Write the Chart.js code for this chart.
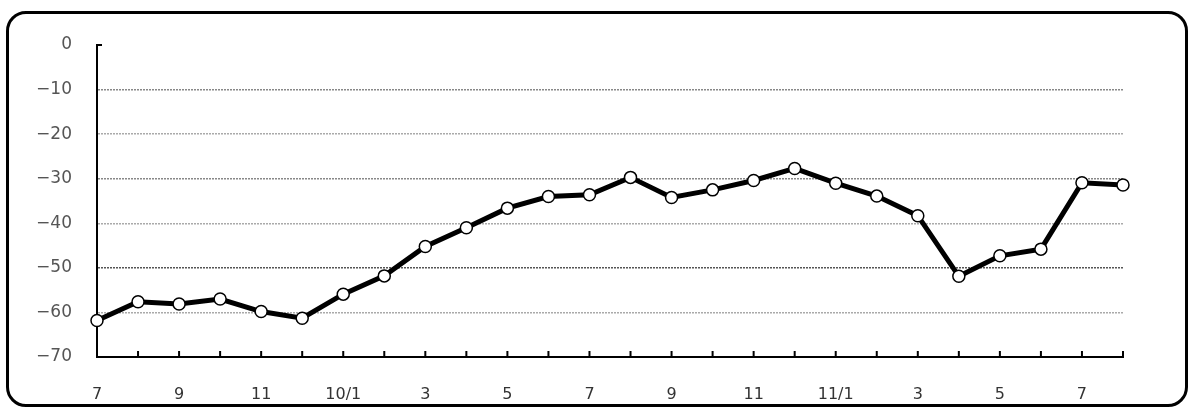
<!DOCTYPE html>
<html>
<head>
<meta charset="utf-8">
<script src="https://cdn.jsdelivr.net/npm/chart.js@4"></script>
<style>
  html, body { margin: 0; padding: 0; background: #fff; }
  #wrap { position: relative; width: 1189px; height: 409px; }
  #frame {
    position: absolute; left: 6px; top: 11px; width: 1182px; height: 396px;
    box-sizing: border-box; border: 3px solid #000; border-radius: 20px;
    pointer-events: none;
  }
  canvas { position: absolute; left: 0; top: 0; }
</style>
</head>
<body>
<div id="wrap">
  <canvas id="c" width="1189" height="409"></canvas>
  <div id="frame"></div>
</div>
<script>
// Monthly readings, 2009/7 through 2011/8
const months = ['7','8','9','10','11','12',
                '10/1','2','3','4','5','6','7','8','9','10','11','12',
                '11/1','2','3','4','5','6','7','8'];
const values = [-61.8, -57.6, -58.1, -57.0, -59.8, -61.3,
                -55.9, -51.8, -45.2, -41.0, -36.6, -34.0, -33.6, -29.7, -34.2, -32.5, -30.4, -27.7,
                -31.0, -33.9, -38.3, -51.9, -47.3, -45.8, -30.9, -31.4];
const yMin = -70, yMax = 0, yStep = 10;

// Short tick marks pointing into the plot area
const innerTicks = {
  id: 'innerTicks',
  afterDraw(chart) {
    const ctx = chart.ctx;
    const xs = chart.scales.x, ys = chart.scales.y;
    ctx.save();
    ctx.strokeStyle = '#000';
    ctx.lineWidth = 2;
    ctx.beginPath();
    const bottom = ys.getPixelForValue(yMin);
    xs.ticks.forEach((t, i) => {
      const px = xs.getPixelForTick(i);
      ctx.moveTo(px, bottom);
      ctx.lineTo(px, bottom - 6);
    });
    const top = ys.getPixelForValue(yMax);
    ctx.moveTo(xs.left - 1, top);
    ctx.lineTo(xs.left + 5, top);
    ctx.stroke();
    ctx.restore();
  }
};

new Chart(document.getElementById('c'), {
  type: 'line',
  data: {
    labels: months,
    datasets: [{
      data: values,
      borderColor: '#000',
      borderWidth: 5,
      tension: 0,
      pointRadius: 6,
      pointBackgroundColor: '#fff',
      pointBorderColor: '#000',
      pointBorderWidth: 1.5,
      clip: false
    }]
  },
  options: {
    responsive: false,
    animation: false,
    events: [],
    layout: { padding: { left: 0, top: 45, right: 66, bottom: 0 } },
    plugins: { legend: { display: false }, tooltip: { enabled: false } },
    scales: {
      x: {
        offset: false,
        afterFit(s) { s.height = 52; },
        border: { display: true, color: '#000', width: 2 },
        grid: { display: false, drawTicks: false },
        ticks: {
          autoSkip: false, maxRotation: 0, padding: 28,
          color: '#333',
          font: { family: 'DejaVu Sans', size: 16 },
          callback(v, i) { return i % 2 === 0 ? months[i] : ''; }
        }
      },
      y: {
        min: yMin, max: yMax,
        afterFit(s) { s.width = 97; },
        border: { display: true, color: '#000', width: 2, dash: [2, 1] },
        grid: {
          drawTicks: false,
          lineWidth: 1.5,
          color(ctx) {
            const v = ctx.tick && ctx.tick.value;
            if (v === yMin || v === yMax) return 'rgba(0,0,0,0)';
            if (v === -50) return '#555';
            if (v === -30 || v === -10) return '#888';
            return '#aaa';
          }
        },
        ticks: {
          stepSize: yStep, padding: 25,
          color: '#555',
          font: { family: 'DejaVu Sans', size: 17 },
          callback(v) { return String(v).replace('-', '\u2212'); }
        }
      }
    }
  },
  plugins: [innerTicks]
});
</script>
</body>
</html>
